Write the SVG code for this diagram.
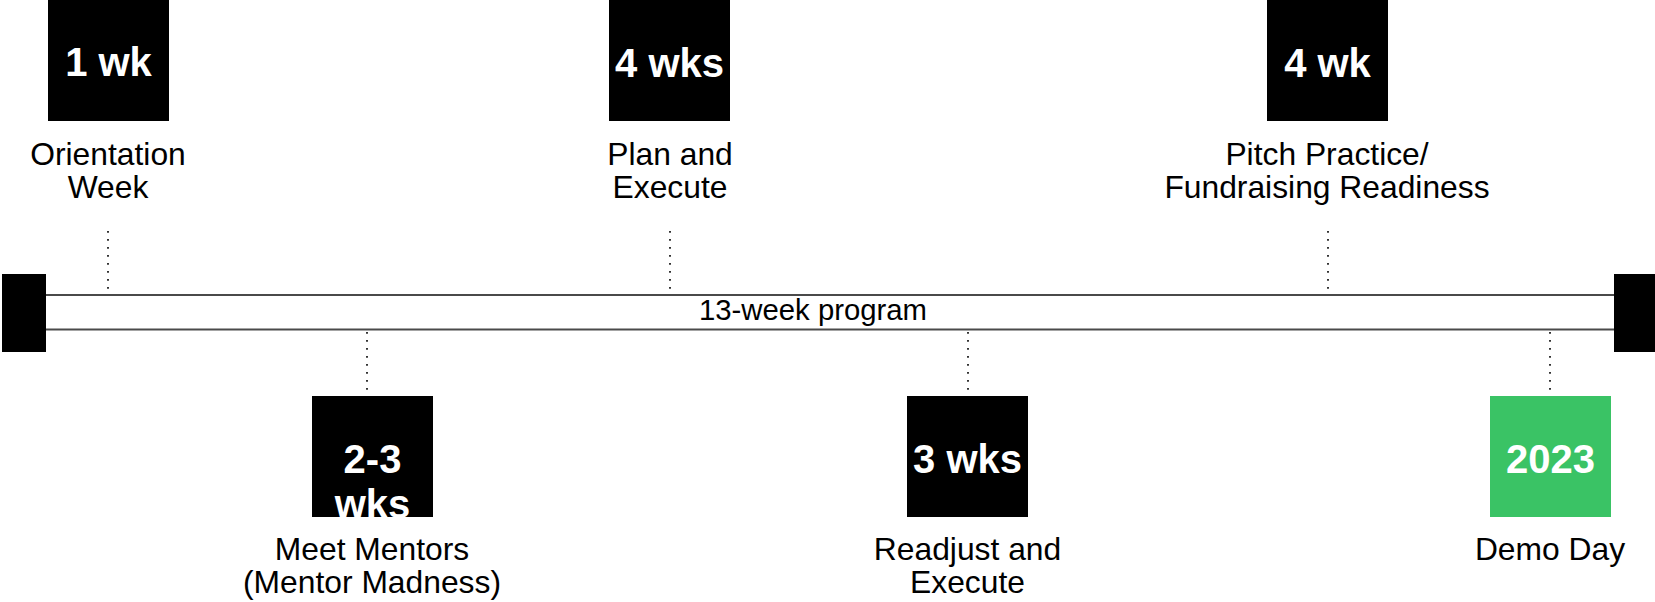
<svg xmlns="http://www.w3.org/2000/svg" width="1655" height="602" viewBox="0 0 1655 602">
<style>
.box{fill:#000}
.green{fill:#3AC365}
.num{font-family:"Liberation Sans",Arial,Helvetica,sans-serif;font-weight:bold;font-size:40px;fill:#fff;text-anchor:middle}
.lbl{font-family:"Liberation Sans",Arial,Helvetica,sans-serif;font-size:31.8px;fill:#000;text-anchor:middle}
.tl{font-family:"Liberation Sans",Arial,Helvetica,sans-serif;font-size:29.3px;fill:#000;text-anchor:middle}
.dot{stroke:#333;stroke-width:2;stroke-dasharray:1.8 6.2;fill:none}
.rail{stroke:#4a4a4a;stroke-width:2;fill:none}
</style>
<defs>
<clipPath id="clip23"><rect x="312" y="396" width="121" height="121"/></clipPath>
</defs>
<rect width="1655" height="602" fill="#fff"/>
<g id="timeline">
<line class="rail" x1="46" y1="295" x2="1614" y2="295"/>
<line class="rail" x1="46" y1="329.5" x2="1614" y2="329.5"/>
<rect class="box" x="2" y="274" width="44" height="78"/>
<rect class="box" x="1614" y="274" width="41" height="78"/>
<text class="tl" x="813" y="320">13-week program</text>
</g>
<g id="connectors">
<line class="dot" x1="108" y1="231" x2="108" y2="294"/>
<line class="dot" x1="670" y1="231" x2="670" y2="294"/>
<line class="dot" x1="1328" y1="231" x2="1328" y2="294"/>
<line class="dot" x1="367" y1="332" x2="367" y2="396"/>
<line class="dot" x1="968" y1="332" x2="968" y2="396"/>
<line class="dot" x1="1550" y1="332" x2="1550" y2="396"/>
</g>
<g id="orientation">
<rect class="box" x="48" y="0" width="121" height="121"/>
<text class="num" x="108.5" y="76">1 wk</text>
<text class="lbl" x="108" y="165">Orientation</text>
<text class="lbl" x="108" y="198">Week</text>
</g>
<g id="plan">
<rect class="box" x="609" y="0" width="121" height="121"/>
<text class="num" x="669.5" y="77">4 wks</text>
<text class="lbl" x="670" y="165">Plan and</text>
<text class="lbl" x="670" y="198">Execute</text>
</g>
<g id="pitch">
<rect class="box" x="1267" y="0" width="121" height="121"/>
<text class="num" x="1327.5" y="77">4 wk</text>
<text class="lbl" x="1327" y="165">Pitch Practice/</text>
<text class="lbl" x="1327" y="198">Fundraising Readiness</text>
</g>
<g id="mentors">
<rect class="box" x="312" y="396" width="121" height="121"/>
<g clip-path="url(#clip23)">
<text class="num" x="372.5" y="473">2-3</text>
<text class="num" x="372.5" y="518">wks</text>
</g>
<text class="lbl" x="372" y="560">Meet Mentors</text>
<text class="lbl" x="372" y="593">(Mentor Madness)</text>
</g>
<g id="readjust">
<rect class="box" x="907" y="396" width="121" height="121"/>
<text class="num" x="967.5" y="473">3 wks</text>
<text class="lbl" x="967.5" y="560">Readjust and</text>
<text class="lbl" x="967.5" y="593">Execute</text>
</g>
<g id="demoday">
<rect class="green" x="1490" y="396" width="121" height="121"/>
<text class="num" x="1550.5" y="473">2023</text>
<text class="lbl" x="1550" y="560">Demo Day</text>
</g>
</svg>
